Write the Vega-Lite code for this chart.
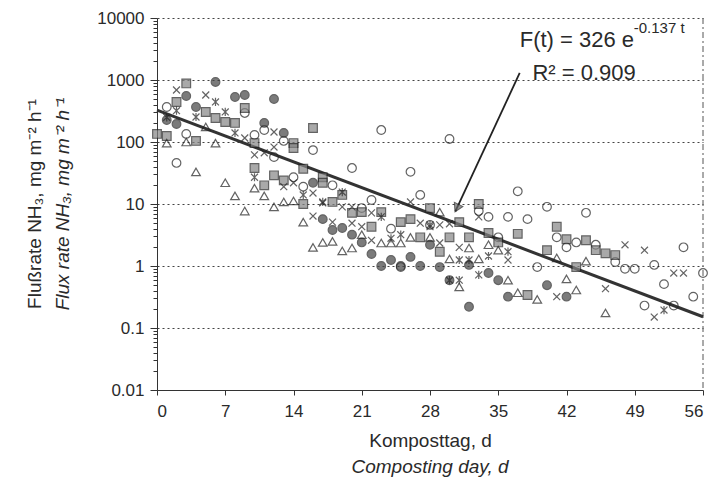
{
  "$schema": "https://vega.github.io/schema/vega-lite/v6.json",
  "width": 546,
  "height": 372,
  "autosize": {"type": "none"},
  "padding": {"left": 157, "top": 18, "right": 13, "bottom": 113},
  "background": "white",
  "config": {
    "view": {"stroke": null},
    "font": "Liberation Sans",
    "axis": {"labelFont": "Liberation Sans", "titleFont": "Liberation Sans", "labelColor": "#2a2a2a", "titleColor": "#2a2a2a", "domainColor": "#333", "tickColor": "#333", "titleFontWeight": "normal"}
  },
  "title": {
    "text": "Flußrate NH₃, mg m⁻² h⁻¹",
    "subtitle": "Flux rate NH₃, mg m⁻² h⁻¹",
    "orient": "left",
    "anchor": "middle",
    "frame": "group",
    "fontSize": 19,
    "fontWeight": "normal",
    "subtitleFontSize": 19,
    "subtitleFontStyle": "italic",
    "subtitleColor": "#2a2a2a",
    "color": "#2a2a2a",
    "subtitlePadding": 9,
    "offset": 24,
    "font": "Liberation Sans",
    "subtitleFont": "Liberation Sans"
  },
  "datasets": {
    "pts": [
      {"d":1,"f":367,"s":"o"},{"d":3,"f":135,"s":"o"},{"d":2,"f":46,"s":"o"},{"d":9,"f":294,"s":"o"},{"d":10,"f":130,"s":"o"},{"d":11,"f":156,"s":"o"},{"d":13,"f":104,"s":"o"},{"d":12,"f":57,"s":"o"},{"d":16,"f":74,"s":"o"},{"d":23,"f":156,"s":"o"},{"d":14,"f":27,"s":"o"},{"d":15,"f":19,"s":"o"},{"d":18,"f":20,"s":"o"},{"d":20,"f":38,"s":"o"},{"d":26,"f":33,"s":"o"},{"d":22,"f":11.6,"s":"o"},{"d":27,"f":14,"s":"o"},{"d":21,"f":8.6,"s":"o"},{"d":24,"f":4.0,"s":"o"},{"d":25,"f":0.96,"s":"o"},{"d":30,"f":112,"s":"o"},{"d":33,"f":7.7,"s":"o"},{"d":34,"f":6.2,"s":"o"},{"d":36,"f":6.2,"s":"o"},{"d":38,"f":5.7,"s":"o"},{"d":40,"f":9.0,"s":"o"},{"d":37,"f":16,"s":"o"},{"d":44,"f":7.2,"s":"o"},{"d":35,"f":2.9,"s":"o"},{"d":39,"f":0.96,"s":"o"},{"d":41,"f":2.9,"s":"o"},{"d":42,"f":2.0,"s":"o"},{"d":43,"f":2.4,"s":"o"},{"d":45,"f":2.2,"s":"o"},{"d":47,"f":1.16,"s":"o"},{"d":48,"f":0.9,"s":"o"},{"d":49,"f":0.9,"s":"o"},{"d":51,"f":1.04,"s":"o"},{"d":54,"f":2.0,"s":"o"},{"d":52,"f":0.51,"s":"o"},{"d":56,"f":0.77,"s":"o"},{"d":55,"f":0.32,"s":"o"},{"d":50,"f":0.23,"s":"o"},{"d":53,"f":0.23,"s":"o"},{"d":28,"f":4.6,"s":"o"},
      {"d":3,"f":552,"s":"fc"},{"d":4,"f":367,"s":"fc"},{"d":6,"f":929,"s":"fc"},{"d":8,"f":532,"s":"fc"},{"d":9,"f":573,"s":"fc"},{"d":12,"f":494,"s":"fc"},{"d":1,"f":226,"s":"fc"},{"d":2,"f":195,"s":"fc"},{"d":11,"f":203,"s":"fc"},{"d":13,"f":140,"s":"fc"},{"d":16,"f":22,"s":"fc"},{"d":17,"f":5.7,"s":"fc"},{"d":18,"f":3.8,"s":"fc"},{"d":19,"f":4.1,"s":"fc"},{"d":20,"f":3.2,"s":"fc"},{"d":21,"f":2.4,"s":"fc"},{"d":22,"f":1.56,"s":"fc"},{"d":23,"f":1.0,"s":"fc"},{"d":24,"f":1.25,"s":"fc"},{"d":25,"f":1.0,"s":"fc"},{"d":26,"f":1.4,"s":"fc"},{"d":27,"f":1.0,"s":"fc"},{"d":28,"f":2.2,"s":"fc"},{"d":29,"f":0.96,"s":"fc"},{"d":32,"f":1.04,"s":"fc"},{"d":32,"f":0.22,"s":"fc"},{"d":34,"f":0.77,"s":"fc"},{"d":35,"f":0.59,"s":"fc"},{"d":36,"f":0.32,"s":"fc"},{"d":40,"f":0.49,"s":"fc"},{"d":42,"f":0.32,"s":"fc"},{"d":30,"f":0.59,"s":"fc"},
      {"d":0,"f":135,"s":"sq"},{"d":1,"f":125,"s":"sq"},{"d":2,"f":442,"s":"sq"},{"d":3,"f":880,"s":"sq"},{"d":5,"f":305,"s":"sq"},{"d":6,"f":244,"s":"sq"},{"d":7,"f":210,"s":"sq"},{"d":4,"f":104,"s":"sq"},{"d":8,"f":203,"s":"sq"},{"d":10,"f":96,"s":"sq"},{"d":9,"f":353,"s":"sq"},{"d":14,"f":96,"s":"sq"},{"d":14,"f":80,"s":"sq"},{"d":16,"f":168,"s":"sq"},{"d":10,"f":38,"s":"sq"},{"d":11,"f":20,"s":"sq"},{"d":12,"f":29,"s":"sq"},{"d":13,"f":24,"s":"sq"},{"d":15,"f":37,"s":"sq"},{"d":17,"f":27,"s":"sq"},{"d":17,"f":22,"s":"sq"},{"d":19,"f":14,"s":"sq"},{"d":15,"f":10,"s":"sq"},{"d":18,"f":10.8,"s":"sq"},{"d":20,"f":7.2,"s":"sq"},{"d":21,"f":7.4,"s":"sq"},{"d":22,"f":4.3,"s":"sq"},{"d":23,"f":7.4,"s":"sq"},{"d":25,"f":5.1,"s":"sq"},{"d":26,"f":5.7,"s":"sq"},{"d":27,"f":2.9,"s":"sq"},{"d":28,"f":8.6,"s":"sq"},{"d":30,"f":2.9,"s":"sq"},{"d":29,"f":1.7,"s":"sq"},{"d":31,"f":5.1,"s":"sq"},{"d":32,"f":2.9,"s":"sq"},{"d":33,"f":10,"s":"sq"},{"d":34,"f":3.4,"s":"sq"},{"d":35,"f":2.4,"s":"sq"},{"d":37,"f":3.3,"s":"sq"},{"d":38,"f":0.34,"s":"sq"},{"d":40,"f":1.8,"s":"sq"},{"d":41,"f":4.3,"s":"sq"},{"d":42,"f":2.7,"s":"sq"},{"d":43,"f":0.96,"s":"sq"},{"d":44,"f":2.6,"s":"sq"},{"d":45,"f":1.8,"s":"sq"},{"d":46,"f":1.6,"s":"sq"},{"d":47,"f":1.5,"s":"sq"},
      {"d":1,"f":96,"s":"tri"},{"d":4,"f":33,"s":"tri"},{"d":5,"f":175,"s":"tri"},{"d":6,"f":96,"s":"tri"},{"d":3,"f":100,"s":"tri"},{"d":7,"f":22,"s":"tri"},{"d":8,"f":13.5,"s":"tri"},{"d":9,"f":7.7,"s":"tri"},{"d":10,"f":18,"s":"tri"},{"d":11,"f":13.5,"s":"tri"},{"d":12,"f":9.0,"s":"tri"},{"d":13,"f":10.8,"s":"tri"},{"d":14,"f":11.2,"s":"tri"},{"d":15,"f":5.1,"s":"tri"},{"d":16,"f":2.0,"s":"tri"},{"d":17,"f":2.4,"s":"tri"},{"d":18,"f":2.5,"s":"tri"},{"d":19,"f":1.75,"s":"tri"},{"d":20,"f":1.95,"s":"tri"},{"d":21,"f":3.2,"s":"tri"},{"d":23,"f":2.35,"s":"tri"},{"d":24,"f":2.35,"s":"tri"},{"d":25,"f":2.35,"s":"tri"},{"d":26,"f":2.9,"s":"tri"},{"d":28,"f":2.9,"s":"tri"},{"d":29,"f":7.4,"s":"tri"},{"d":30,"f":1.3,"s":"tri"},{"d":31,"f":0.46,"s":"tri"},{"d":32,"f":1.95,"s":"tri"},{"d":33,"f":1.3,"s":"tri"},{"d":34,"f":2.2,"s":"tri"},{"d":35,"f":1.8,"s":"tri"},{"d":36,"f":0.59,"s":"tri"},{"d":37,"f":0.37,"s":"tri"},{"d":39,"f":0.29,"s":"tri"},{"d":41,"f":1.35,"s":"tri"},{"d":42,"f":0.62,"s":"tri"},{"d":43,"f":0.41,"s":"tri"},{"d":44,"f":1.2,"s":"tri"},{"d":46,"f":0.175,"s":"tri"},
      {"d":2,"f":690,"s":"x"},{"d":5,"f":573,"s":"x"},{"d":9,"f":116,"s":"x"},{"d":12,"f":145,"s":"x"},{"d":10,"f":62,"s":"x"},{"d":11,"f":67,"s":"x"},{"d":12,"f":83,"s":"x"},{"d":13,"f":19,"s":"x"},{"d":14,"f":22,"s":"x"},{"d":16,"f":15,"s":"x"},{"d":16,"f":6.4,"s":"x"},{"d":17,"f":10.4,"s":"x"},{"d":18,"f":5.1,"s":"x"},{"d":19,"f":9.0,"s":"x"},{"d":20,"f":9.0,"s":"x"},{"d":20,"f":4.9,"s":"x"},{"d":21,"f":4.3,"s":"x"},{"d":22,"f":7.2,"s":"x"},{"d":22,"f":2.6,"s":"x"},{"d":26,"f":10.8,"s":"x"},{"d":27,"f":4.9,"s":"x"},{"d":28,"f":4.3,"s":"x"},{"d":29,"f":4.6,"s":"x"},{"d":30,"f":4.8,"s":"x"},{"d":29,"f":2.35,"s":"x"},{"d":31,"f":2.0,"s":"x"},{"d":33,"f":6.2,"s":"x"},{"d":36,"f":1.25,"s":"x"},{"d":41,"f":0.32,"s":"x"},{"d":46,"f":0.43,"s":"x"},{"d":48,"f":2.2,"s":"x"},{"d":50,"f":1.8,"s":"x"},{"d":53,"f":0.77,"s":"x"},{"d":54,"f":0.77,"s":"x"},{"d":51,"f":0.15,"s":"x"},
      {"d":1,"f":250,"s":"ast"},{"d":2,"f":320,"s":"ast"},{"d":4,"f":253,"s":"ast"},{"d":6,"f":442,"s":"ast"},{"d":7,"f":305,"s":"ast"},{"d":8,"f":140,"s":"ast"},{"d":10,"f":27,"s":"ast"},{"d":15,"f":14,"s":"ast"},{"d":17,"f":10.8,"s":"ast"},{"d":19,"f":15.6,"s":"ast"},{"d":23,"f":6.2,"s":"ast"},{"d":24,"f":2.8,"s":"ast"},{"d":25,"f":3.2,"s":"ast"},{"d":28,"f":4.6,"s":"ast"},{"d":31,"f":1.25,"s":"ast"},{"d":32,"f":1.25,"s":"ast"},{"d":34,"f":1.45,"s":"ast"},{"d":36,"f":1.7,"s":"ast"},{"d":31,"f":0.59,"s":"ast"},{"d":33,"f":0.72,"s":"ast"},{"d":52,"f":0.195,"s":"ast"},{"d":30,"f":0.59,"s":"ast"}
    ]
  },
  "layer": [
    {
      "data": {"values": [{"d": 56}]},
      "mark": {"type": "rule", "color": "#555", "strokeDash": [6, 3, 2, 3], "strokeWidth": 1},
      "encoding": {
        "x": {"field": "d", "type": "quantitative", "scale": {"domain": [0, 56], "nice": false, "zero": false},
          "axis": {"values": [0,7,14,21,28,35,42,49,56], "labelFontSize": 17, "tickSize": 5, "labelPadding": 8, "grid": false, "title": "Komposttag, d", "titleFontSize": 19, "titlePadding": 12}}
      }
    },
    {
      "data": {"values": [{"d": 0, "f": 326}, {"d": 56, "f": 0.152}]},
      "mark": {"type": "line", "color": "#333", "strokeWidth": 3},
      "encoding": {
        "x": {"field": "d", "type": "quantitative"},
        "y": {"field": "f", "type": "quantitative",
          "scale": {"type": "log", "domain": [0.01, 10000], "nice": false},
          "axis": {
            "values": [0.01,0.02,0.03,0.04,0.05,0.06,0.07,0.08,0.09,0.1,0.2,0.3,0.4,0.5,0.6,0.7,0.8,0.9,1,2,3,4,5,6,7,8,9,10,20,30,40,50,60,70,80,90,100,200,300,400,500,600,700,800,900,1000,2000,3000,4000,5000,6000,7000,8000,9000,10000],
            "labelExpr": "abs(log(datum.value)/LN10 - round(log(datum.value)/LN10)) < 0.001 ? format(datum.value, '~g') : ''",
            "labelFontSize": 17,
            "labelPadding": 6,
            "tickSize": {"condition": {"test": "abs(log(datum.value)/LN10 - round(log(datum.value)/LN10)) < 0.001", "value": 7}, "value": 4},
            "grid": true,
            "gridDash": [2, 3],
            "gridColor": "#444",
            "gridOpacity": {"condition": {"test": "abs(log(datum.value)/LN10 - round(log(datum.value)/LN10)) < 0.001 && datum.value > 0.02", "value": 1}, "value": 0},
            "title": null
          }
        }
      }
    },
    {
      "data": {"name": "pts"},
      "mark": {"type": "point", "filled": true, "size": 75, "strokeWidth": 1.2, "clip": false},
      "encoding": {
        "x": {"field": "d", "type": "quantitative"},
        "y": {"field": "f", "type": "quantitative"},
        "shape": {"field": "s", "type": "nominal", "legend": null,
          "scale": {"domain": ["o","fc","sq","tri","x","ast"], "range": ["circle","circle","square","triangle-up","M-0.8,-0.8L0.8,0.8M-0.8,0.8L0.8,-0.8","M-0.8,-0.8L0.8,0.8M-0.8,0.8L0.8,-0.8M0,-0.95L0,0.95"]}},
        "fill": {"field": "s", "type": "nominal", "legend": null,
          "scale": {"domain": ["o","fc","sq","tri","x","ast"], "range": ["transparent","#444","#858585","transparent","transparent","transparent"]}},
        "stroke": {"value": "#222"}
      }
    },
    {
      "data": {"values": [{"d": 37.2, "f": 1300, "d2": 30.6, "f2": 7.6}]},
      "mark": {"type": "rule", "color": "#222", "strokeWidth": 1.8},
      "encoding": {
        "x": {"field": "d", "type": "quantitative"},
        "y": {"field": "f", "type": "quantitative"},
        "x2": {"field": "d2"},
        "y2": {"field": "f2"}
      }
    },
    {
      "data": {"values": [{"d": 30.75, "f": 8.6}]},
      "mark": {"type": "point", "shape": "triangle-down", "filled": true, "size": 90, "angle": 26, "color": "#666", "stroke": "#222", "strokeWidth": 1},
      "encoding": {
        "x": {"field": "d", "type": "quantitative"},
        "y": {"field": "f", "type": "quantitative"}
      }
    },
    {
      "data": {"values": [{"d": 37.2, "f": 4400, "label": "F(t) = 326 e"}, {"d": 38.5, "f": 1300, "label": "R² = 0.909"}]},
      "mark": {"type": "text", "align": "left", "baseline": "middle", "fontSize": 22, "font": "Liberation Sans", "color": "#2a2a2a"},
      "encoding": {
        "x": {"field": "d", "type": "quantitative"},
        "y": {"field": "f", "type": "quantitative"},
        "text": {"field": "label"}
      }
    },
    {
      "data": {"values": [{"d": 48.9, "f": 6800, "label": "-0.137 t"}]},
      "mark": {"type": "text", "align": "left", "baseline": "middle", "fontSize": 15, "font": "Liberation Sans", "color": "#2a2a2a"},
      "encoding": {
        "x": {"field": "d", "type": "quantitative"},
        "y": {"field": "f", "type": "quantitative"},
        "text": {"field": "label"}
      }
    },
    {
      "data": {"values": [{"d": 28, "f": 0.00057, "label": "Composting day, d"}]},
      "mark": {"type": "text", "align": "center", "baseline": "middle", "fontSize": 19, "fontStyle": "italic", "font": "Liberation Sans", "color": "#2a2a2a", "clip": false},
      "encoding": {
        "x": {"field": "d", "type": "quantitative"},
        "y": {"field": "f", "type": "quantitative"},
        "text": {"field": "label"}
      }
    }
  ]
}
